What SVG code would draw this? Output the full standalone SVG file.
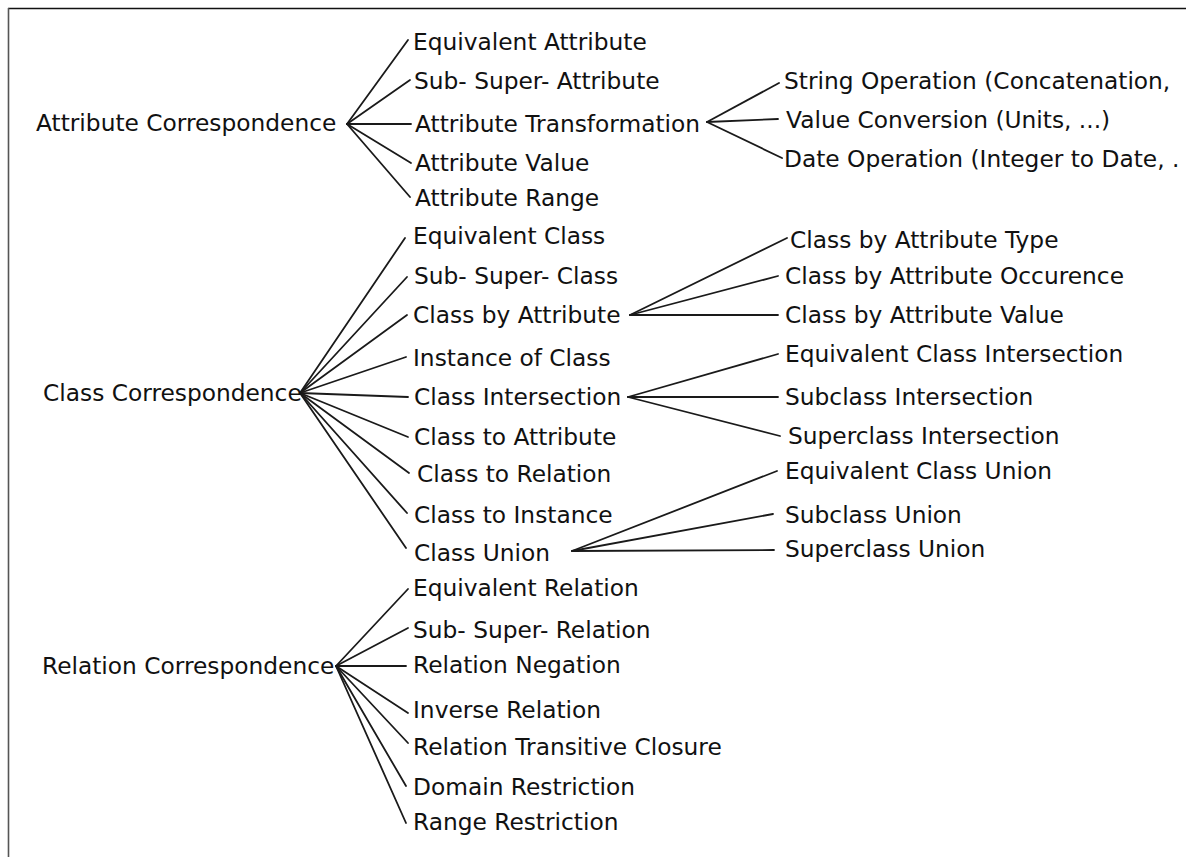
<svg xmlns="http://www.w3.org/2000/svg" width="1186" height="857" viewBox="0 0 1186 857">
<style>
text{font-family:"DejaVu Sans","Liberation Sans",sans-serif;font-size:23.3px;fill:#111}
.c line{stroke:#1a1a1a;stroke-width:1.8;stroke-linecap:round}
</style>
<rect width="1186" height="857" fill="#fff"/>
<g id="frame">
<line x1="8" y1="8.5" x2="1186" y2="8.5" stroke="#111" stroke-width="1.6"/>
<line x1="8.5" y1="8" x2="8.5" y2="857" stroke="#555" stroke-width="1.6"/>
</g>
<g class="c" id="connectors">
<line x1="347" y1="124" x2="408" y2="40"/>
<line x1="347" y1="124" x2="410" y2="80"/>
<line x1="347" y1="124" x2="411" y2="124"/>
<line x1="347" y1="124" x2="411" y2="163"/>
<line x1="347" y1="124" x2="410" y2="197"/>
<line x1="707" y1="122" x2="779" y2="83"/>
<line x1="707" y1="122" x2="778" y2="119"/>
<line x1="707" y1="122" x2="782" y2="158"/>
<line x1="300" y1="393" x2="405" y2="238"/>
<line x1="300" y1="393" x2="407" y2="277"/>
<line x1="300" y1="393" x2="407" y2="315"/>
<line x1="300" y1="393" x2="406" y2="357"/>
<line x1="300" y1="393" x2="408" y2="397"/>
<line x1="300" y1="393" x2="408" y2="437"/>
<line x1="300" y1="393" x2="409" y2="473"/>
<line x1="300" y1="393" x2="407" y2="513"/>
<line x1="300" y1="393" x2="406" y2="548"/>
<line x1="630" y1="315" x2="787" y2="238"/>
<line x1="630" y1="315" x2="778" y2="276"/>
<line x1="630" y1="315" x2="778" y2="315"/>
<line x1="628" y1="397" x2="778" y2="354"/>
<line x1="628" y1="397" x2="778" y2="397"/>
<line x1="628" y1="397" x2="780" y2="436"/>
<line x1="572" y1="551" x2="777" y2="471"/>
<line x1="572" y1="551" x2="773" y2="514"/>
<line x1="572" y1="551" x2="774" y2="550"/>
<line x1="336" y1="666" x2="408" y2="589"/>
<line x1="336" y1="666" x2="408" y2="628"/>
<line x1="336" y1="666" x2="406" y2="666"/>
<line x1="336" y1="666" x2="408" y2="713"/>
<line x1="336" y1="666" x2="408" y2="743"/>
<line x1="336" y1="666" x2="406" y2="786"/>
<line x1="336" y1="666" x2="406" y2="823"/>
</g>
<g id="attr-root"><text x="36" y="131">Attribute Correspondence</text></g>
<g id="attr-equiv"><text x="413" y="50">Equivalent Attribute</text></g>
<g id="attr-sub"><text x="414" y="89">Sub- Super- Attribute</text></g>
<g id="attr-trans"><text x="415" y="132">Attribute Transformation</text></g>
<g id="attr-value"><text x="415" y="171">Attribute Value</text></g>
<g id="attr-range"><text x="415" y="206">Attribute Range</text></g>
<g id="trans-string"><text x="784" y="89">String Operation (Concatenation,</text></g>
<g id="trans-value"><text x="786" y="128">Value Conversion (Units, ...)</text></g>
<g id="trans-date"><text x="784" y="167">Date Operation (Integer to Date, .</text></g>
<g id="class-root"><text x="43" y="401">Class Correspondence</text></g>
<g id="class-equiv"><text x="413" y="244">Equivalent Class</text></g>
<g id="class-sub"><text x="414" y="284">Sub- Super- Class</text></g>
<g id="class-byattr"><text x="413" y="323">Class by Attribute</text></g>
<g id="class-inst"><text x="413" y="366">Instance of Class</text></g>
<g id="class-inter"><text x="414" y="405">Class Intersection</text></g>
<g id="class-toattr"><text x="414" y="445">Class to Attribute</text></g>
<g id="class-torel"><text x="417" y="482">Class to Relation</text></g>
<g id="class-toinst"><text x="414" y="523">Class to Instance</text></g>
<g id="class-union"><text x="414" y="561">Class Union</text></g>
<g id="cba-type"><text x="790" y="248">Class by Attribute Type</text></g>
<g id="cba-occ"><text x="785" y="284">Class by Attribute Occurence</text></g>
<g id="cba-value"><text x="785" y="323">Class by Attribute Value</text></g>
<g id="ci-equiv"><text x="785" y="362">Equivalent Class Intersection</text></g>
<g id="ci-sub"><text x="785" y="405">Subclass Intersection</text></g>
<g id="ci-super"><text x="788" y="444">Superclass Intersection</text></g>
<g id="cu-equiv"><text x="785" y="479">Equivalent Class Union</text></g>
<g id="cu-sub"><text x="785" y="523">Subclass Union</text></g>
<g id="cu-super"><text x="785" y="557">Superclass Union</text></g>
<g id="rel-root"><text x="42" y="674">Relation Correspondence</text></g>
<g id="rel-equiv"><text x="413" y="596">Equivalent Relation</text></g>
<g id="rel-sub"><text x="413" y="638">Sub- Super- Relation</text></g>
<g id="rel-neg"><text x="413" y="673">Relation Negation</text></g>
<g id="rel-inv"><text x="413" y="718">Inverse Relation</text></g>
<g id="rel-trans"><text x="413" y="755">Relation Transitive Closure</text></g>
<g id="rel-domain"><text x="413" y="795">Domain Restriction</text></g>
<g id="rel-range"><text x="413" y="830">Range Restriction</text></g>
</svg>
